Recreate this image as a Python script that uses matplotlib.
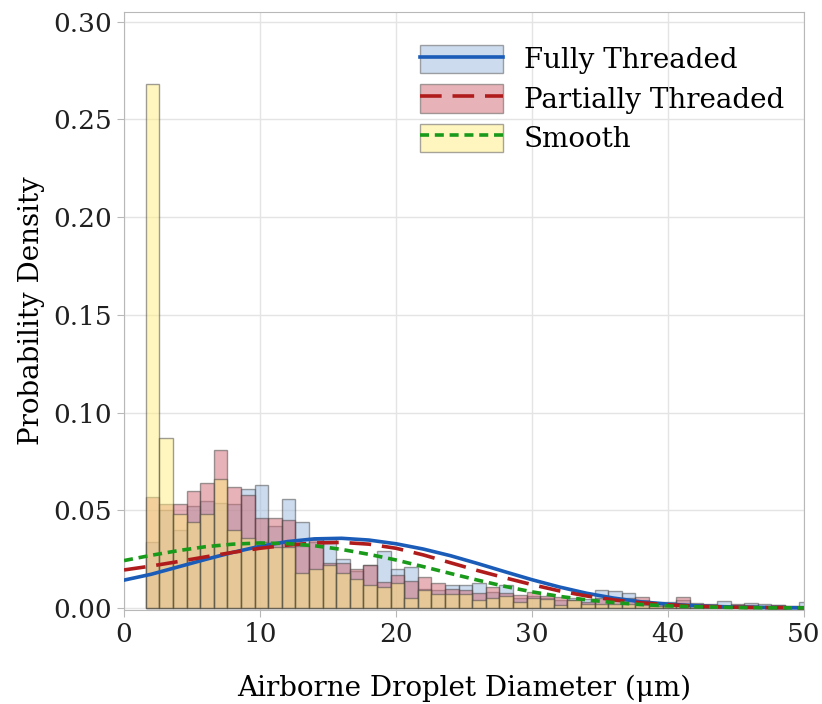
import matplotlib
matplotlib.use("Agg")
import matplotlib.pyplot as plt
from matplotlib.patches import Patch
from matplotlib.lines import Line2D

plt.rcParams['font.family'] = ['DejaVu Serif']

# histogram bins: width 1 um, first edge at 1.6 um
bin_start = 1.6
bin_width = 1.0

# bar heights (probability density) read per bin
fully = [0.034, 0.050, 0.040, 0.052, 0.055, 0.054, 0.053, 0.061, 0.063, 0.042,
         0.056, 0.044, 0.034, 0.036, 0.025, 0.019, 0.022, 0.029, 0.020, 0.021,
         0.010, 0.009, 0.012, 0.012, 0.013, 0.008, 0.012, 0.005, 0.006, 0.005,
         0.004, 0.005, 0.0045, 0.0092, 0.0087, 0.0078, 0.004, 0.0032, 0.0032, 0.004,
         0.0027, 0.002, 0.0037, 0.0015, 0.0027, 0.002, 0.0017, 0.001, 0.0029]
partial = [0.057, 0.053, 0.053, 0.060, 0.064, 0.081, 0.062, 0.058, 0.046, 0.046,
           0.045, 0.032, 0.035, 0.023, 0.023, 0.020, 0.022, 0.0135, 0.017, 0.014,
           0.016, 0.013, 0.010, 0.009, 0.0075, 0.011, 0.0075, 0.0067, 0.0084, 0.006,
           0.0058, 0.004, 0.003, 0.005, 0.004, 0.005, 0.0058, 0.002, 0.002, 0.0055,
           0.002, 0.0015, 0.001, 0.002, 0.0015, 0.001, 0.0015, 0.0008, 0.001]
smooth = [0.268, 0.087, 0.048, 0.044, 0.048, 0.066, 0.040, 0.036, 0.034, 0.031,
          0.031, 0.018, 0.020, 0.022, 0.018, 0.015, 0.012, 0.011, 0.013, 0.005,
          0.009, 0.007, 0.007, 0.007, 0.004, 0.005, 0.006, 0.003, 0.005, 0.0045,
          0.0015, 0.004, 0.002, 0.002, 0.002, 0.002, 0.0015, 0.001, 0.001, 0.001,
          0.0008, 0.0008, 0.0005, 0.0005, 0.0005, 0.0005, 0.0003, 0.0003, 0.0003]

# fitted density curves read every 2 um
curve_x = list(range(0, 52, 2))
fully_fit = [0.0143, 0.0173, 0.0211, 0.0249, 0.0285, 0.0316, 0.0340, 0.0354, 0.0357,
             0.0348, 0.0329, 0.0302, 0.0268, 0.0228, 0.0186, 0.0145, 0.0108, 0.0076,
             0.0051, 0.0032, 0.0020, 0.0012, 0.0007, 0.0004, 0.0002, 0.0001]
partial_fit = [0.0195, 0.0215, 0.0238, 0.0262, 0.0285, 0.0306, 0.0322, 0.0333, 0.0336,
               0.0327, 0.0306, 0.0272, 0.0232, 0.0192, 0.0155, 0.0120, 0.0088, 0.0062,
               0.0042, 0.0027, 0.0017, 0.0010, 0.0006, 0.0003, 0.0002, 0.0001]
smooth_fit = [0.0243, 0.0270, 0.0294, 0.0314, 0.0327, 0.0333, 0.0330, 0.0319, 0.0300,
              0.0275, 0.0246, 0.0212, 0.0177, 0.0143, 0.0111, 0.0083, 0.0060, 0.0042,
              0.0028, 0.0018, 0.0011, 0.0007, 0.0004, 0.0002, 0.0001, 0.0001]

labels = ['Fully Threaded', 'Partially Threaded', 'Smooth']
fills = ['#9bb9dd', '#d16973', '#ffee80']
line_colors = ['#1a5cb8', '#b01c1c', '#1a9a1a']
line_styles = ['-', (0, (6, 3)), (0, (2.5, 1.6))]

fig = plt.figure(figsize=(8.22, 7.04), dpi=100)
ax = fig.add_axes([0.1509, 0.1335, 0.8272, 0.8495])

lefts = [bin_start + i * bin_width for i in range(len(fully))]
for heights, fc in zip([fully, partial, smooth], fills):
    ax.bar(lefts, heights, width=bin_width, align='edge', color=fc, alpha=0.5,
           edgecolor='#404040', linewidth=1.0, zorder=2)

for ys, c, ls in zip([fully_fit, partial_fit, smooth_fit], line_colors, line_styles):
    ax.plot(curve_x, ys, color=c, linestyle=ls, linewidth=2.6, zorder=4)

ax.set_xlim(0, 50)
ax.set_ylim(-0.001, 0.305)
ax.set_xticks([0, 10, 20, 30, 40, 50])
ax.set_yticks([0, 0.05, 0.10, 0.15, 0.20, 0.25, 0.30])
ax.set_yticklabels(['0.00', '0.05', '0.10', '0.15', '0.20', '0.25', '0.30'])
ax.grid(True, color='#e4e4e4', linewidth=1.0, zorder=0)
ax.set_axisbelow(True)
for s in ax.spines.values():
    s.set_color('#b8b8b8')
ax.tick_params(axis='both', labelsize=19, colors='#202020', length=5, color='#b8b8b8')

ax.set_xlabel('Airborne Droplet Diameter (\u03bcm)', fontsize=20, labelpad=20)
ax.set_ylabel('Probability Density', fontsize=20, labelpad=6)

handles = []
for fc, c, ls in zip(fills, line_colors, line_styles):
    p = Patch(facecolor=fc, alpha=0.5, edgecolor='#505050')
    l = Line2D([], [], color=c, linestyle=ls, linewidth=2.6)
    handles.append((p, l))
ax.legend(handles, labels, loc='upper left', bbox_to_anchor=(0.435, 0.945),
          frameon=False, fontsize=20, handlelength=3.0, handleheight=1.2,
          handletextpad=0.75, labelspacing=0.35, borderpad=0, borderaxespad=0)

fig.savefig('out.png', dpi=100)
